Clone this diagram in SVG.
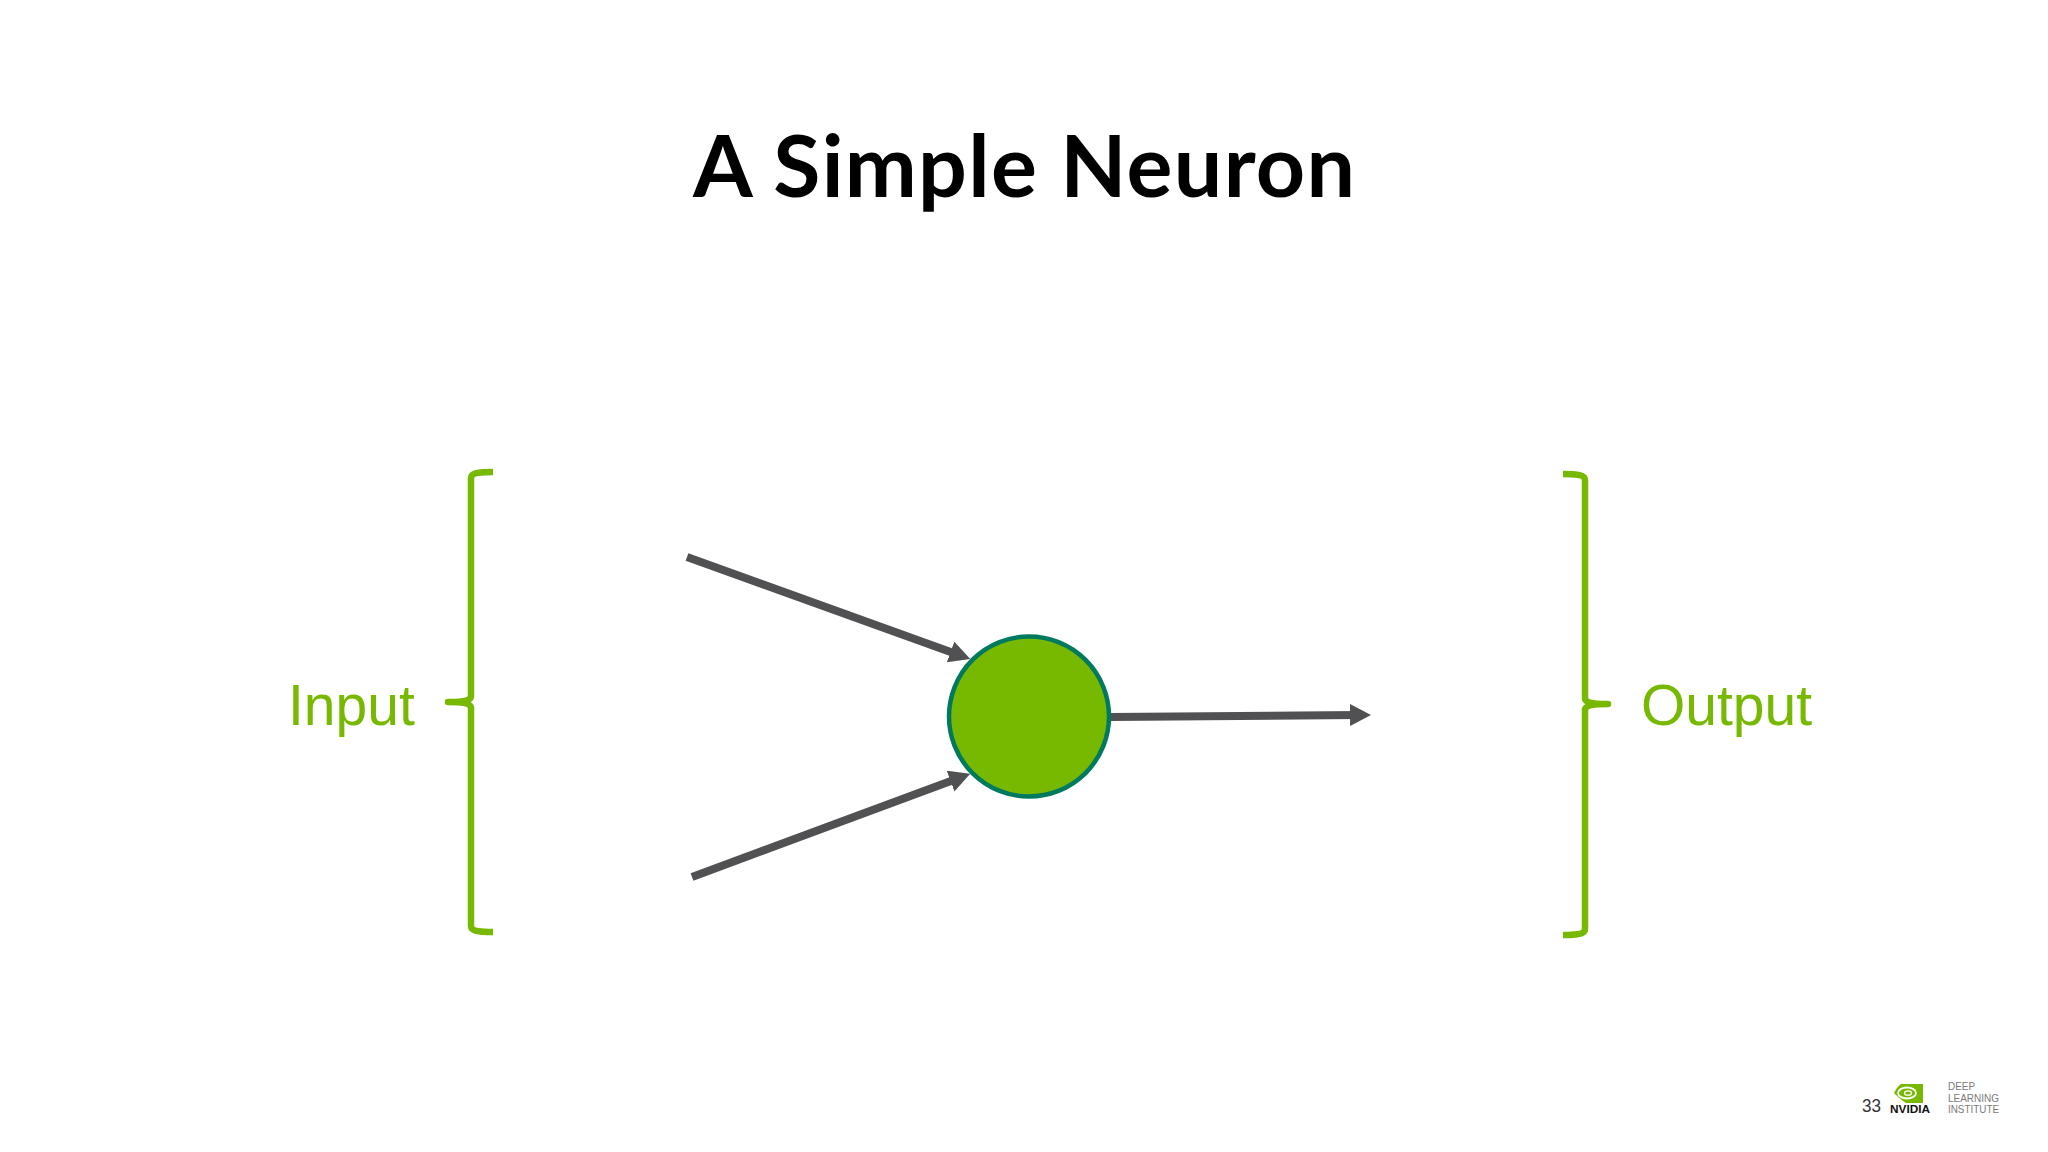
<svg xmlns="http://www.w3.org/2000/svg" width="2048" height="1152" viewBox="0 0 2048 1152">
<style>
.green{fill:#76b900;font-family:"Liberation Sans",Arial,sans-serif;font-size:57px}
.brace{fill:none;stroke:#76b900;stroke-width:6.500;stroke-linecap:butt;stroke-linejoin:round}
.conn{stroke:#515052;stroke-width:8;fill:none}
.dli{fill:#7a7a7a;font-family:"Liberation Sans",Arial,sans-serif;font-size:11.5px}
</style>
<defs>
<marker id="arrow" markerUnits="userSpaceOnUse" markerWidth="24" markerHeight="24" refX="9" refY="11" orient="auto"><path d="M0 0L21 11L0 22z" fill="#515052"/></marker>
</defs>
<rect width="2048" height="1152" fill="#ffffff"/>
<text id="title" x="1024" y="197" text-anchor="middle" font-family="Lato,'Noto Sans',sans-serif" font-weight="700" font-size="86" textLength="662" fill="#000000">A Simple Neuron</text>
<g id="connectors">
<line class="conn" x1="687" y1="557" x2="959" y2="655" marker-end="url(#arrow)"/>
<line class="conn" x1="692" y1="877" x2="959" y2="778" marker-end="url(#arrow)"/>
<line class="conn" x1="1110" y1="717" x2="1359" y2="715" marker-end="url(#arrow)"/>
</g>
<g id="neuron"><circle cx="1029" cy="716.500" r="80" fill="#76b900" stroke="#007a5e" stroke-width="4.500"/></g>
<g id="input">
<path class="brace" d="M493 472C478 472 471 473 471 478V696C471 700 466 702 448 702C466 702 471 704 471 708V926C471 931 478 932 493 932"/>
<text class="green" x="288" y="725">Input</text>
</g>
<g id="output">
<path class="brace" d="M1563 474C1578 474 1585 475 1585 480V698C1585 702 1590 704 1608 704C1590 704 1585 706 1585 710V929C1585 934 1578 935 1563 935"/>
<text class="green" x="1641" y="725">Output</text>
</g>
<g id="footer">
<text x="1862" y="1112" font-family="'Liberation Sans Narrow','Liberation Sans',sans-serif" font-size="19" fill="#333333" textLength="19" lengthAdjust="spacingAndGlyphs">33</text>
<path d="M1901 1084H1923V1103H1906C1900 1099 1897 1096 1894 1093C1896 1089 1898 1086 1901 1084Z" fill="#76b900"/>
<ellipse cx="1907" cy="1093" rx="9" ry="5.500" fill="none" stroke="#ffffff" stroke-width="1.800"/>
<ellipse cx="1908" cy="1093" rx="3.500" ry="2.200" fill="none" stroke="#ffffff" stroke-width="1.300"/>
<text x="1890" y="1113" font-family="'Liberation Sans',sans-serif" font-weight="700" font-size="10.500" fill="#111111" textLength="40" lengthAdjust="spacingAndGlyphs">NVIDIA</text>
<text class="dli" x="1948" y="1090" textLength="27" lengthAdjust="spacingAndGlyphs">DEEP</text>
<text class="dli" x="1948" y="1102" textLength="51" lengthAdjust="spacingAndGlyphs">LEARNING</text>
<text class="dli" x="1948" y="1113" textLength="51" lengthAdjust="spacingAndGlyphs">INSTITUTE</text>
</g>
</svg>
